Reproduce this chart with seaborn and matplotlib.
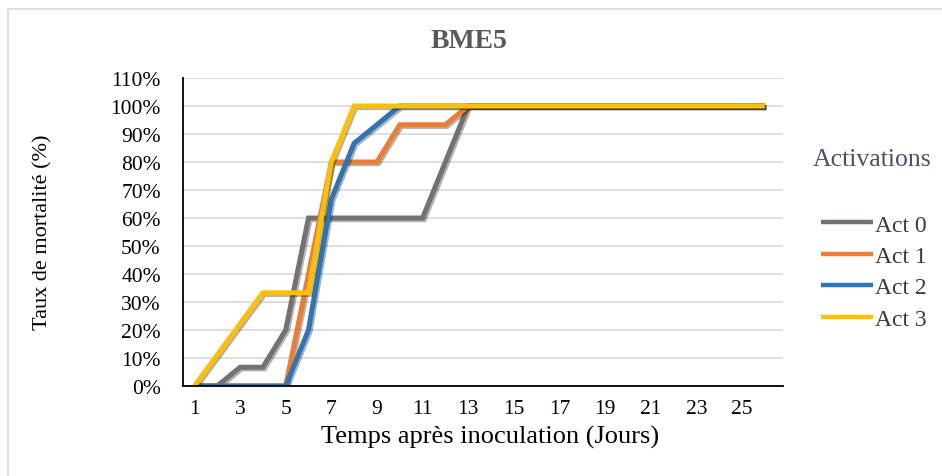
import numpy as np
import pandas as pd
import matplotlib
matplotlib.use("Agg")
import matplotlib.pyplot as plt
import matplotlib.patheffects as pe
from matplotlib.ticker import FixedLocator, PercentFormatter
from matplotlib.patches import Rectangle
import seaborn as sns

# Mortality (%) per day after inoculation, one series per activation level
days = list(range(1, 27))
act0 = [0, 0, 6.7, 6.7, 20, 60, 60, 60, 60, 60, 60, 80, 100] + [100] * 13
act1 = [0, 0, 0, 0, 0, 40, 80, 80, 80, 93.3, 93.3, 93.3, 100] + [100] * 13
act2 = [0, 0, 0, 0, 0, 20, 66.7, 86.7, 93.3, 100] + [100] * 16
act3 = [0, 11.1, 22.2, 33.3, 33.3, 33.3, 80, 100] + [100] * 18
series_names = ["Act 0", "Act 1", "Act 2", "Act 3"]
colors = ["#767171", "#ED7D31", "#2E75B6", "#FFC000"]
x_ticks = list(range(1, 26, 2))
y_ticks = list(range(0, 111, 10))

df = pd.concat(
    [pd.DataFrame({"Jour": days, "Mortalite": vals, "Activation": name})
     for name, vals in zip(series_names, [act0, act1, act2, act3])],
    ignore_index=True,
)

sns.set_theme(style="white")
plt.rcParams["font.family"] = ["Liberation Serif", "DejaVu Serif"]

fig = plt.figure(figsize=(9.42, 4.77), dpi=100)
ax = fig.add_axes([183 / 942, 1 - 387 / 477, 600 / 942, 308 / 477])

sns.lineplot(data=df, x="Jour", y="Mortalite", hue="Activation",
             palette=dict(zip(series_names, colors)), linewidth=3.6,
             ax=ax, legend=False, sort=False)

shadow = [pe.SimpleLineShadow(offset=(1.2, -1.2), shadow_color="black", alpha=0.3),
          pe.Normal()]
for line in ax.get_lines():
    line.set_path_effects(shadow)
    line.set_solid_capstyle("butt")
    line.set_solid_joinstyle("miter")

ax.set_xlim(0.5, 26.8)
ax.set_ylim(0, 110)
ax.xaxis.set_major_locator(FixedLocator(x_ticks))
ax.yaxis.set_major_locator(FixedLocator(y_ticks))
ax.yaxis.set_major_formatter(PercentFormatter(xmax=100, decimals=0))
ax.grid(axis="y", color="#D9D9D9", linewidth=1.2)
ax.set_axisbelow(True)
for side in ("top", "right"):
    ax.spines[side].set_visible(False)
for side in ("left", "bottom"):
    ax.spines[side].set_color("black")
    ax.spines[side].set_linewidth(1.3)
ax.tick_params(axis="both", length=0, labelsize=15.5, colors="black")
ax.tick_params(axis="y", pad=16)
ax.tick_params(axis="x", pad=9)

ax.set_xlabel("Temps après inoculation (Jours)", fontsize=19, color="black")
ax.set_ylabel("Taux de mortalité (%)", fontsize=16, color="black")
ax.xaxis.label.set_va("center")
ax.xaxis.set_label_coords((490 - 183) / 600, (387 - 437) / 308)
ax.yaxis.label.set_va("center")
ax.yaxis.set_label_coords((43 - 183) / 600, (387 - 232) / 308)

fig.text(469 / 942, 1 - 42 / 477, "BME5", ha="center", va="center",
         fontsize=20, fontweight="bold", color="#595959")

fig.text(872 / 942, 1 - 160 / 477, "Activations", ha="center", va="center",
         fontsize=18.5, color="#44546A")
handles = ax.get_lines()[:4]
leg = fig.legend(handles, series_names, loc="upper left",
                 bbox_to_anchor=(821 / 942, 1 - 215 / 477),
                 frameon=False, fontsize=17, handlelength=2.2,
                 handletextpad=0.1, labelspacing=0.42, borderpad=0,
                 borderaxespad=0)
for txt in leg.get_texts():
    txt.set_color("#3A3A3A")
for h in leg.legend_handles:
    h.set_linewidth(3.2)
    h.set_path_effects([])

# chart frame
fig.add_artist(Rectangle((8 / 942, -0.05), 1.1, 1 - 10 / 477 + 0.05,
                         transform=fig.transFigure, fill=False,
                         edgecolor="#D9D9D9", linewidth=1.2, clip_on=False))

fig.savefig("out.png", dpi=100)
